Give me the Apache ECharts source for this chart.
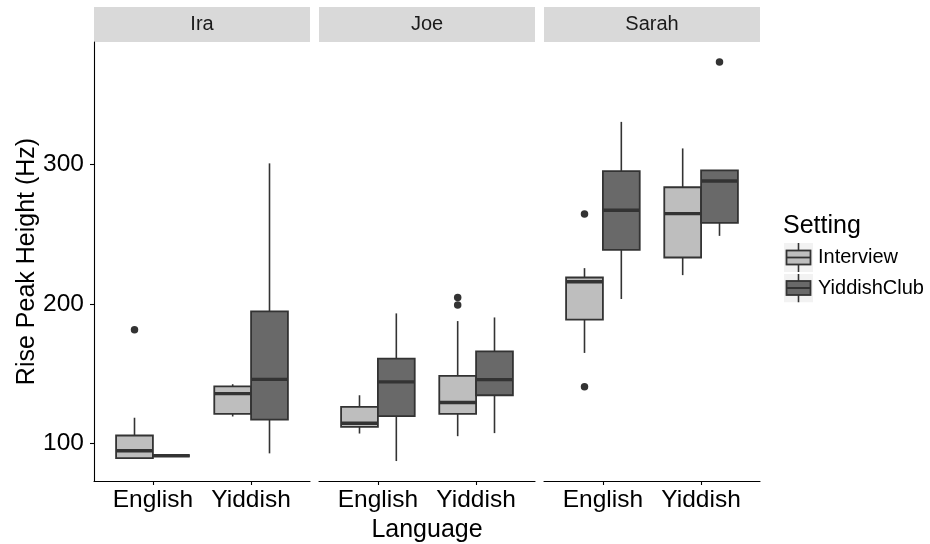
<!DOCTYPE html>
<html>
<head>
<meta charset="utf-8">
<script src="https://cdn.jsdelivr.net/npm/echarts@6/dist/echarts.min.js"></script>
<style>
  html, body { margin: 0; padding: 0; background: #ffffff; }
  #chart { width: 930px; height: 544px; }
</style>
</head>
<body>
<div id="chart"></div>
<script>
// Speakers (facets), languages (x categories) and recording settings (fill groups)
const people = ['Ira', 'Joe', 'Sarah'];
const languages = ['English', 'Yiddish'];
const settings = ['Interview', 'YiddishClub'];
const yTicks = [100, 200, 300];

// Box statistics per speaker, per language: [lower whisker, Q1, median, Q3, upper whisker]
const interviewStats = [
  [[89.5, 89.5, 94.8, 105.7, 118.4], [119.3, 121.2, 135.7, 140.9, 142.4]],
  [[107.1, 111.9, 114.5, 126.2, 134.5], [105.2, 121.2, 129.3, 148.4, 187.6]],
  [[164.8, 188.6, 215.7, 218.8, 225.5], [220.5, 233.1, 264.5, 283.4, 311.2]]
];
const yiddishClubStats = [
  [[91.2, 91.2, 91.2, 91.2, 91.2], [92.9, 117.1, 145.9, 194.5, 300.5]],
  [[87.4, 119.5, 144.1, 160.7, 193.1], [107.4, 134.5, 145.7, 165.9, 190.2]],
  [[203.4, 238.6, 266.9, 295.0, 330.2], [248.6, 257.9, 287.9, 295.5, 295.5]]
];

// Outlying points per speaker, per language
const interviewOutliers = [
  [[181.4], []],
  [[], [204.5, 199.1]],
  [[264.3, 140.5], []]
];
const yiddishClubOutliers = [
  [[], []],
  [[], []],
  [[], [373.1]]
];

// ---- styling / layout ----
const FONT = 'Liberation Sans, Arial, Helvetica, sans-serif';
const FILLS = ['#bebebe', '#696969'];
const EDGE = '#333333';
const PANEL_LEFT = [94, 319, 544];
const PANEL_WIDTH = 216;
const PANEL_TOP = 42;
const PANEL_HEIGHT = 439;
const BOX_WIDTH = 0.375;              // width of one dodged box, in category units
const DODGE = [-BOX_WIDTH / 2, BOX_WIDTH / 2];

const statsBySetting = [interviewStats, yiddishClubStats];
const outliersBySetting = [interviewOutliers, yiddishClubOutliers];

// Shared y range: data range expanded by 5% on each side
const allValues = [];
statsBySetting.forEach(s => s.forEach(p => p.forEach(b => allValues.push(...b))));
outliersBySetting.forEach(s => s.forEach(p => p.forEach(o => allValues.push(...o))));
const yMinData = Math.min(...allValues);
const yMaxData = Math.max(...allValues);
const yPad = (yMaxData - yMinData) * 0.05;
const yMin = yMinData - yPad;
const yMax = yMaxData + yPad;

function boxRenderer(offset, fill) {
  return function (params, api) {
    const x = api.value(0) + offset;
    const pLow = api.coord([x, api.value(1)]);
    const pQ1 = api.coord([x, api.value(2)]);
    const pMed = api.coord([x, api.value(3)]);
    const pQ3 = api.coord([x, api.value(4)]);
    const pHigh = api.coord([x, api.value(5)]);
    const w = api.size([BOX_WIDTH, 0])[0];
    const cx = pMed[0];
    const left = cx - w / 2;
    const whisker = { stroke: EDGE, lineWidth: 1.6 };
    return {
      type: 'group',
      children: [
        { type: 'line', shape: { x1: cx, y1: pQ3[1], x2: cx, y2: pHigh[1] }, style: whisker },
        { type: 'line', shape: { x1: cx, y1: pQ1[1], x2: cx, y2: pLow[1] }, style: whisker },
        { type: 'rect', shape: { x: left, y: pQ3[1], width: w, height: pQ1[1] - pQ3[1] },
          style: { fill: fill, stroke: EDGE, lineWidth: 1.8 } },
        { type: 'line', shape: { x1: left, y1: pMed[1], x2: left + w, y2: pMed[1] },
          style: { stroke: EDGE, lineWidth: 3.4 } }
      ]
    };
  };
}

function legendIcon(fill) {
  const svg =
    '<svg xmlns="http://www.w3.org/2000/svg" width="29" height="29" viewBox="0 0 29 29">' +
    '<rect x="0" y="0" width="29" height="29" fill="#f2f2f2"/>' +
    '<line x1="14.5" y1="0" x2="14.5" y2="29" stroke="' + EDGE + '" stroke-width="1.6"/>' +
    '<rect x="2.5" y="7.5" width="24" height="14" fill="' + fill + '" stroke="' + EDGE + '" stroke-width="1.8"/>' +
    '<line x1="2.5" y1="14.5" x2="26.5" y2="14.5" stroke="' + EDGE + '" stroke-width="1.8"/>' +
    '</svg>';
  return 'image://data:image/svg+xml;charset=utf-8,' + encodeURIComponent(svg);
}

const grids = [], xAxes = [], yAxes = [], series = [], graphics = [];

people.forEach((person, p) => {
  grids.push({
    left: PANEL_LEFT[p], top: PANEL_TOP, width: PANEL_WIDTH, height: PANEL_HEIGHT,
    containLabel: false, outerBoundsMode: 'none'
  });

  xAxes.push({
    gridIndex: p,
    type: 'value',
    min: 0.4,
    max: languages.length + 0.6,
    name: p === 1 ? 'Language' : '',
    nameLocation: 'middle',
    nameGap: 33,
    nameTextStyle: { fontFamily: FONT, fontSize: 25, color: '#000' },
    axisLine: { show: true, lineStyle: { color: '#000', width: 1.1 } },
    axisTick: { show: true, length: 4, lineStyle: { color: '#000', width: 1.1 },
                customValues: languages.map((_, i) => i + 1) },
    axisLabel: { show: true, margin: 7, fontFamily: FONT, fontSize: 24.5, color: '#000',
                 customValues: languages.map((_, i) => i + 1),
                 formatter: v => languages[Math.round(v) - 1] || '' },
    splitLine: { show: false }
  });

  yAxes.push({
    gridIndex: p,
    type: 'value',
    min: yMin,
    max: yMax,
    show: p === 0,
    name: p === 0 ? 'Rise Peak Height (Hz)' : '',
    nameLocation: 'middle',
    nameGap: 54,
    nameTextStyle: { fontFamily: FONT, fontSize: 25, color: '#000' },
    axisLine: { show: true, lineStyle: { color: '#000', width: 1.1 } },
    axisTick: { show: true, length: 4, lineStyle: { color: '#000', width: 1.1 }, customValues: yTicks },
    axisLabel: { show: true, margin: 10, fontFamily: FONT, fontSize: 24.5, color: '#000', customValues: yTicks },
    splitLine: { show: false }
  });

  settings.forEach((setting, s) => {
    series.push({
      type: 'custom',
      name: setting,
      xAxisIndex: p,
      yAxisIndex: p,
      renderItem: boxRenderer(DODGE[s], FILLS[s]),
      encode: { x: 0, y: [1, 2, 3, 4, 5] },
      itemStyle: { color: FILLS[s] },
      data: languages.map((lang, i) => [i + 1].concat(statsBySetting[s][p][i])),
      z: 2
    });

    const pts = [];
    languages.forEach((lang, i) => {
      outliersBySetting[s][p][i].forEach(v => pts.push([i + 1 + DODGE[s], v]));
    });
    if (pts.length) {
      series.push({
        type: 'scatter',
        name: setting + ' outliers',
        xAxisIndex: p,
        yAxisIndex: p,
        symbol: 'circle',
        symbolSize: 7.5,
        itemStyle: { color: EDGE, opacity: 1 },
        data: pts,
        z: 3
      });
    }
  });

  // facet strip
  graphics.push({
    type: 'rect',
    shape: { x: PANEL_LEFT[p], y: 7, width: PANEL_WIDTH, height: 35 },
    style: { fill: '#d9d9d9' },
    silent: true
  });
  graphics.push({
    type: 'text',
    x: PANEL_LEFT[p] + PANEL_WIDTH / 2,
    y: 24.5,
    style: { text: person, fontFamily: FONT, fontSize: 20, fill: '#1a1a1a',
             align: 'center', verticalAlign: 'middle' },
    silent: true
  });
});

const chart = echarts.init(document.getElementById('chart'), null, { renderer: 'canvas' });
chart.setOption({
  animation: false,
  backgroundColor: '#ffffff',
  title: {
    text: 'Setting',
    left: 783,
    top: 214,
    padding: 0,
    textStyle: { fontFamily: FONT, fontSize: 25, fontWeight: 'normal', color: '#000' }
  },
  legend: {
    orient: 'vertical',
    left: 784,
    top: 243,
    padding: 0,
    itemWidth: 29,
    itemHeight: 29,
    itemGap: 1.5,
    selectedMode: false,
    textStyle: { fontFamily: FONT, fontSize: 20, color: '#000' },
    data: settings.map((name, s) => ({ name: name, icon: legendIcon(FILLS[s]) }))
  },
  grid: grids,
  xAxis: xAxes,
  yAxis: yAxes,
  series: series,
  graphic: graphics
});
</script>
</body>
</html>
